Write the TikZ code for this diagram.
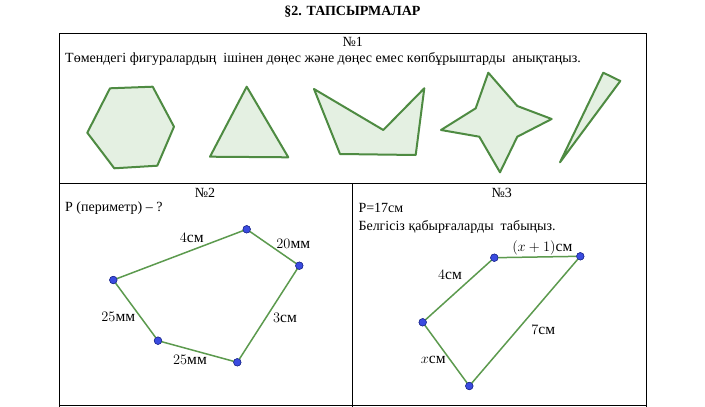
\documentclass[tikz,border=0pt]{standalone}
\usepackage{fontspec}
\setmainfont{Liberation Serif}
\definecolor{gstroke}{HTML}{4E8B42}
\definecolor{gfill}{HTML}{E4F0E2}
\definecolor{lgreen}{HTML}{5C9A4E}
\definecolor{ptblue}{HTML}{3A4BE0}
\definecolor{ptedge}{HTML}{1F2A8A}
\tikzset{
  shapepoly/.style={draw=gstroke, fill=gfill, line width=2pt, line join=round},
  seg/.style={draw=lgreen, line width=1.5pt},
  pt/.style={circle, fill=ptblue, draw=ptedge, line width=0.5pt, inner sep=0pt, minimum size=7.5pt},
  tline/.style={draw=black, line width=0.9pt},
  txt/.style={inner sep=0pt, font=\fontsize{14}{16}\selectfont},
  lbl/.style={inner sep=0pt, font=\fontsize{15.5}{17}\selectfont},
}
\begin{document}
\begin{tikzpicture}[x=1pt,y=-1pt]
\useasboundingbox (0,0) rectangle (705,407);
\fill[white] (0,0) rectangle (705,407);
% title
\node[inner sep=0pt, font=\fontsize{14}{16}\selectfont\bfseries] (title) at (352.5,12) {§2. ТАПСЫРМАЛАР};
% table
\draw[tline] (59,407) -- (59,33.3) -- (646.7,33.3) -- (646.7,407);
\draw[tline] (59,183.3) -- (646.7,183.3);
\draw[tline] (352.7,183.3) -- (352.7,407);
\draw[tline] (59,405) -- (646.7,405);
% task 1
\node[txt] (n1) at (352.8,41.7) {№1};
\node[txt, anchor=west] (q1) at (65,59.3) {Төмендегі фигуралардың\ \ ішінен дөңес және дөңес емес көпбұрыштарды\ \ анықтаңыз.};
\filldraw[shapepoly] (110,88.3) -- (152.7,86.7) -- (174,126.7) -- (157.3,165.7) -- (114.3,168.3) -- (87.3,132.7) -- cycle;
\filldraw[shapepoly] (246.7,86.7) -- (288.3,157.3) -- (210,156.7) -- cycle;
\filldraw[shapepoly] (314,89) -- (383.3,130) -- (424.3,88.3) -- (415.7,155) -- (340,154) -- cycle;
\filldraw[shapepoly] (488.3,72.7) -- (517.3,106) -- (551.7,119) -- (517.3,136.7) -- (500,172.3) -- (479.3,136.7) -- (441,130) -- (475.7,108.3) -- cycle;
\filldraw[shapepoly] (603.3,72.7) -- (620.3,81) -- (560,162.3) -- cycle;
% task 2
\node[txt] (n2) at (205,193) {№2};
\node[txt, anchor=west] (q2) at (65,208) {Р (периметр) – ?};
\node[pt] (a) at (113.3,280) {};
\node[pt] (b) at (246.7,229.3) {};
\node[pt] (c) at (299.3,265.7) {};
\node[pt] (d) at (237.3,362.3) {};
\node[pt] (e) at (158,340.7) {};
\draw[seg] (a.center) -- (b.center) -- (c.center) -- (d.center) -- (e.center) -- (a.center);
\node[pt] at (a) {};\node[pt] at (b) {};\node[pt] at (c) {};\node[pt] at (d) {};\node[pt] at (e) {};
\node[lbl] (l1) at (191.7,238.3) {$4$см};
\node[lbl] (l2) at (293.3,244.3) {$20$мм};
\node[lbl] (l3) at (285,317.7) {$3$см};
\node[lbl] (l4) at (190,360) {$25$мм};
\node[lbl] (l5) at (118.3,316.7) {$25$мм};
% task 3
\node[txt] (n3) at (501.7,193.3) {№3};
\node[txt, anchor=west] (q3) at (358.3,208.3) {P=17см};
\node[txt, anchor=west] (q4) at (358.3,226.7) {Белгісіз қабырғаларды\ \ табыңыз.};
\node[pt] (f) at (494.3,257.7) {};
\node[pt] (g) at (580.3,256.3) {};
\node[pt] (h) at (469.3,386) {};
\node[pt] (i) at (422.7,322.3) {};
\draw[seg] (f.center) -- (g.center) -- (h.center) -- (i.center) -- (f.center);
\node[pt] at (f) {};\node[pt] at (g) {};\node[pt] at (h) {};\node[pt] at (i) {};
\node[lbl] (m1) at (542.3,247.7) {$(x+1)$см};
\node[lbl] (m2) at (450,275) {$4$см};
\node[lbl] (m3) at (543.3,330) {$7$см};
\node[lbl] (m4) at (433.3,360) {$x$см};
\end{tikzpicture}
\end{document}
